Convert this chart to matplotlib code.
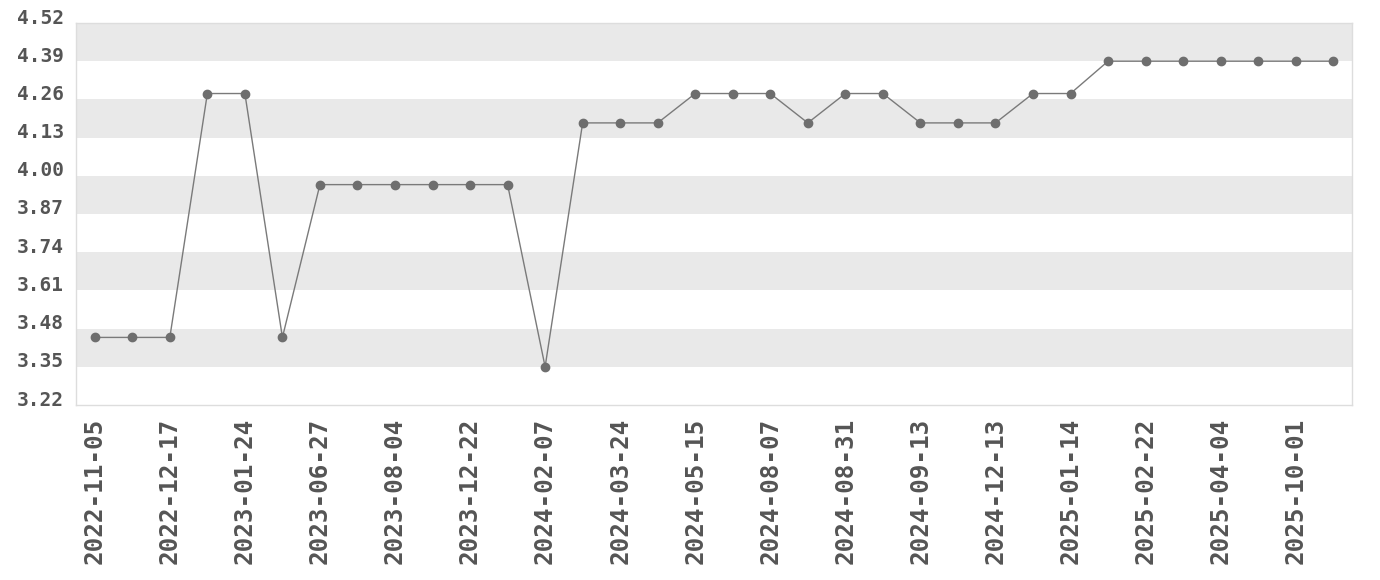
import matplotlib
matplotlib.use("Agg")
import matplotlib.pyplot as plt
import matplotlib.transforms as mtransforms
import numpy as np

dates = [
    "2022-11-05", "2022-11-20", "2022-12-17", "2023-01-05", "2023-01-24",
    "2023-05-10", "2023-06-27", "2023-07-15", "2023-08-04", "2023-10-20",
    "2023-12-22", "2024-01-15", "2024-02-07", "2024-03-01", "2024-03-24",
    "2024-04-20", "2024-05-15", "2024-07-01", "2024-08-07", "2024-08-20",
    "2024-08-31", "2024-09-05", "2024-09-13", "2024-11-01", "2024-12-13",
    "2025-01-01", "2025-01-14", "2025-02-01", "2025-02-22", "2025-03-15",
    "2025-04-04", "2025-07-01", "2025-10-01", "2025-11-01",
]
values = [
    3.45, 3.45, 3.45, 4.28, 4.28, 3.45, 3.97, 3.97, 3.97, 3.97,
    3.97, 3.97, 3.35, 4.18, 4.18, 4.18, 4.28, 4.28, 4.28, 4.18,
    4.28, 4.28, 4.18, 4.18, 4.18, 4.28, 4.28, 4.39, 4.39, 4.39,
    4.39, 4.39, 4.39, 4.39,
]

# y ticks: one step below min to one step above max
vmin, vmax = min(values), max(values)
step = 0.13
yticks = np.round(np.arange(vmin - step, vmax + step + 1e-6, step), 2)

fig = plt.figure(figsize=(13.8, 5.8), dpi=100)
ax = fig.add_axes([76 / 1380, 1 - 405 / 580, (1352 - 76) / 1380, (405 - 23) / 580])

x = np.arange(len(values))
ax.set_xlim(-0.5, len(values) - 0.5)
ax.set_ylim(yticks[0], yticks[-1])

# alternating bands, gray on top
for i in range(len(yticks) - 1):
    if (len(yticks) - 2 - i) % 2 == 0:
        ax.axhspan(yticks[i], yticks[i + 1], color="#e9e9e9", lw=0, zorder=0)

ax.plot(x, values, color="#7a7a7a", lw=1.0, marker="o", ms=6,
        mfc="#6e6e6e", mec="#6e6e6e", zorder=3)

ax.set_yticks(yticks)
ax.set_yticklabels([f"{v:.2f}" for v in yticks])
ax.set_xticks(x[::2])
ax.set_xticklabels(dates[::2], rotation=90)

ax.tick_params(axis="both", length=0)
ax.tick_params(axis="y", pad=9)
ax.tick_params(axis="x", pad=9)
for lab in ax.get_yticklabels():
    lab.set_fontfamily("DejaVu Sans Mono")
    lab.set_fontweight("bold")
    lab.set_fontsize(14)
    lab.set_color("#555555")
    lab.set_transform(lab.get_transform() + mtransforms.ScaledTranslation(0, 7 / 100, fig.dpi_scale_trans))
for lab in ax.get_xticklabels():
    lab.set_fontfamily("DejaVu Sans Mono")
    lab.set_fontweight("bold")
    lab.set_fontsize(17.5)
    lab.set_color("#555555")

for s in ax.spines.values():
    s.set_color("#dddddd")
    s.set_linewidth(1)

fig.savefig("out.png", dpi=100)
